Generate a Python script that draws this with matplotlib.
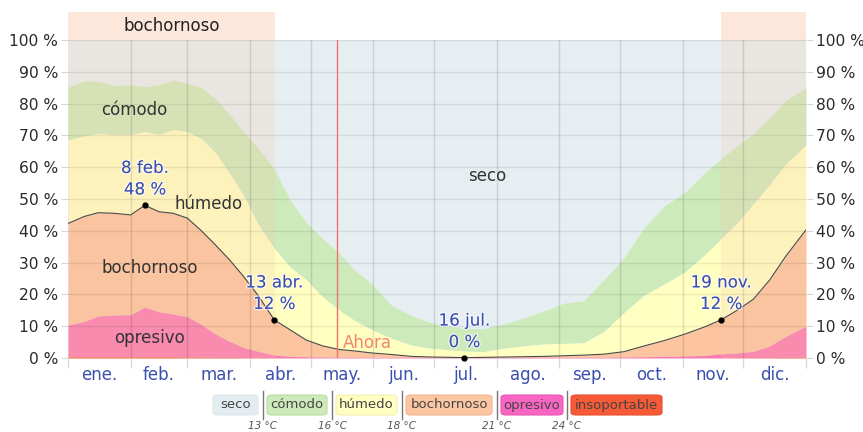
import matplotlib
matplotlib.use("Agg")
import matplotlib.pyplot as plt
import matplotlib.patheffects as pe
from matplotlib.patches import Rectangle, FancyBboxPatch
import numpy as np

# ---------------- data (percent of days, cumulative boundaries) ----------------
days = [0, 8, 15, 23, 31, 38, 45, 52, 59, 66, 73, 80, 87, 94, 102, 110, 118, 126,
        134, 142, 150, 160, 170, 180, 190, 196, 205, 215, 225, 235, 245, 255, 265,
        275, 285, 295, 305, 315, 323, 331, 339, 347, 355, 365]

insoportable_top = [0.4, 0.4, 0.4, 0.4, 0.4, 0.4, 0.4, 0.4, 0.3, 0.3, 0.2, 0.2, 0.1, 0.1, 0.1, 0.0, 0.0, 0.0,
                    0.0, 0.0, 0.0, 0.0, 0.0, 0.0, 0.0, 0.0, 0.0, 0.0, 0.0, 0.0, 0.0, 0.0, 0.0,
                    0.0, 0.0, 0.0, 0.0, 0.0, 0.0, 0.1, 0.1, 0.1, 0.2, 0.3]

opresivo_top = [10.4, 11.5, 13.2, 13.5, 13.6, 16.0, 14.5, 13.8, 13.0, 10.5, 7.5, 5.2, 3.3, 2.1, 0.9, 0.5, 0.4, 0.3,
                0.2, 0.2, 0.2, 0.2, 0.2, 0.2, 0.2, 0.2, 0.2, 0.2, 0.2, 0.2, 0.2, 0.2, 0.2,
                0.3, 0.4, 0.5, 0.6, 0.8, 1.3, 1.6, 2.1, 3.8, 6.8, 10.0]

bochornoso_top = [42.3, 44.5, 45.7, 45.5, 45.0, 48.0, 46.0, 45.5, 44.0, 40.0, 35.5, 30.8, 25.5, 19.7, 12.0, 8.8, 5.6, 3.8,
                  2.7, 2.2, 1.6, 1.1, 0.5, 0.3, 0.2, 0.1, 0.2, 0.3, 0.4, 0.5, 0.7, 0.9, 1.2,
                  2.0, 3.8, 5.5, 7.5, 9.8, 12.0, 15.0, 18.5, 24.5, 32.0, 40.3]

humedo_top = [68.6, 69.8, 70.7, 70.2, 70.3, 71.2, 70.3, 71.8, 71.2, 69.0, 64.5, 58.0, 51.0, 42.0, 34.5, 28.5, 24.5, 19.2,
              15.1, 11.7, 9.0, 6.2, 4.0, 3.0, 2.5, 2.2, 2.0, 3.0, 3.8, 4.4, 4.6, 4.8, 8.3,
              14.3, 19.8, 23.3, 27.0, 32.5, 37.5, 42.5, 48.5, 54.5, 61.0, 67.0]

comodo_top = [85.1, 87.2, 87.0, 85.7, 85.9, 85.3, 86.0, 87.4, 86.5, 85.0, 81.5, 76.5, 71.0, 66.0, 59.5, 49.5, 42.5, 37.5,
              33.0, 27.5, 23.5, 16.5, 13.3, 11.0, 9.8, 9.3, 9.2, 10.5, 12.5, 14.7, 17.2, 18.0, 24.5,
              31.5, 41.0, 47.8, 52.0, 58.3, 62.6, 66.8, 70.5, 75.5, 81.0, 85.0]

month_starts = [0, 31, 59, 90, 120, 151, 181, 212, 243, 273, 304, 334, 365]
month_labels = ["ene.", "feb.", "mar.", "abr.", "may.", "jun.", "jul.", "ago.", "sep.", "oct.", "nov.", "dic."]

muggy_periods = [(0, 102.5), (323, 365)]
now_day = 133

annot_days = [38, 102, 196, 323]
annot_vals = [48, 12, 0, 12]
annot_texts = ["8 feb.\n48 %", "13 abr.\n12 %", "16 jul.\n0 %", "19 nov.\n12 %"]

legend_labels = ["seco", "cómodo", "húmedo", "bochornoso", "opresivo", "insoportable"]
temp_labels = ["13 °C", "16 °C", "18 °C", "21 °C", "24 °C"]

# ---------------- style ----------------
c_seco = "#e6eef2"
c_comodo = "#cdeabb"
c_humedo = "#ffffc2"
c_boch = "#fcc49f"
c_opres = "#f87bb0"
c_insop = "#f5603a"
c_overlay = "#f8c8a8"
blue = "#3a4fb0"

W, H = 863, 432
fig = plt.figure(figsize=(W / 100, H / 100), dpi=100)
x0, x1, ytop, ybot = 68, 806, 40, 358
ax = fig.add_axes([x0 / W, 1 - ybot / H, (x1 - x0) / W, (ybot - ytop) / H])
ax.set_xlim(0, 365)
ax.set_ylim(0, 100)
ax.set_facecolor(c_seco)
for s in ax.spines.values():
    s.set_visible(False)

d = np.array(days, dtype=float)
zero = np.zeros_like(d)
ax.fill_between(d, humedo_top, comodo_top, color=c_comodo, lw=0, zorder=1)
ax.fill_between(d, bochornoso_top, humedo_top, color=c_humedo, lw=0, zorder=1)
ax.fill_between(d, opresivo_top, bochornoso_top, color=c_boch, lw=0, zorder=1)
ax.fill_between(d, insoportable_top, opresivo_top, color=c_opres, lw=0, zorder=1)
ax.fill_between(d, zero, insoportable_top, color=c_insop, lw=0, zorder=1)
ax.plot(d, bochornoso_top, color="#4a4a4a", lw=0.8, zorder=4)

# muggy overlay + band above plot
for a, b in muggy_periods:
    ax.axvspan(a, b, color=c_overlay, alpha=0.22, lw=0, zorder=2)
    ax.add_patch(Rectangle((a, 1.0), b - a, 28 / 318, transform=ax.get_xaxis_transform(),
                           facecolor="#fde6da", edgecolor="none", clip_on=False, zorder=0))
ax.text(np.mean(muggy_periods[0]), 1.044, "bochornoso", transform=ax.get_xaxis_transform(),
        ha="center", va="center", fontsize=12, color="#222")

# grid
for m in month_starts[1:-1]:
    ax.axvline(m, color="black", alpha=0.12, lw=1, zorder=3)
for v in range(10, 101, 10):
    ax.axhline(v, color="black", alpha=0.08, lw=1, zorder=3)

# now line
ax.axvline(now_day, color="#f07070", lw=1, zorder=4)
ax.text(now_day + 3, 4.7, "Ahora", color="#f4846c", fontsize=12, ha="left", va="center", zorder=5)

# ticks
ax.set_xticks(month_starts)
ax.set_xticklabels([])
ax.tick_params(axis="x", which="major", length=7, color="#d8d8d8", width=1)
mids = [(month_starts[i] + month_starts[i + 1]) / 2 for i in range(12)]
ax.set_xticks(mids, minor=True)
ax.set_xticklabels(month_labels, minor=True)
ax.tick_params(axis="x", which="minor", length=0, pad=6, labelsize=12, labelcolor=blue)

yt = list(range(0, 101, 10))
ax.set_yticks(yt)
ax.set_yticklabels([f"{v} %" for v in yt])
ax.tick_params(axis="y", length=5, color="#d8d8d8", labelsize=11.2, labelcolor="#2a2a2a",
               left=True, right=True, labelleft=True, labelright=True, pad=2)

# region labels
lab_kw = dict(fontsize=12, color="#333", ha="center", va="center", zorder=5)
ax.text(33, 78, "cómodo", **lab_kw)
ax.text(69.5, 48.4, "húmedo", **lab_kw)
ax.text(40.5, 28.3, "bochornoso", **lab_kw)
ax.text(40.5, 6.3, "opresivo", **lab_kw)
ax.text(207.5, 57.2, "seco", **lab_kw)

# annotations
for dd, vv, tt in zip(annot_days, annot_vals, annot_texts):
    ax.plot([dd], [vv], "o", color="black", ms=3.5, zorder=6, clip_on=False)
    ax.annotate(tt, xy=(dd, vv), xytext=(0, 5), textcoords="offset points", ha="center",
                va="bottom", fontsize=12, color=blue, linespacing=1.25, zorder=6,
                path_effects=[pe.withStroke(linewidth=2, foreground=(1, 1, 1, 0.6))])

# legend
box_x = [(213, 258), (267, 327), (336, 397), (406, 492), (501, 563), (571, 662)]
box_fc = ["#e3ecf0", "#cdeabb", "#ffffc2", "#fdc6a2", "#f865c2", "#f75a36"]
box_ec = ["#dfe7ea", "#b9dca3", "#f4f0b0", "#f0b590", "#e858b5", "#e54f2d"]
seps = [262.5, 332, 401.5, 496.5, 567]
by0, by1 = 395, 415
for (a, b), fc, ec, lab in zip(box_x, box_fc, box_ec, legend_labels):
    fig.patches.append(FancyBboxPatch((a / W, 1 - by1 / H), (b - a) / W, (by1 - by0) / H,
                                      boxstyle="round,pad=0,rounding_size=0.006",
                                      transform=fig.transFigure, facecolor=fc, edgecolor=ec, lw=0.8))
    fig.text((a + b) / 2 / W, 1 - 405 / H, lab, ha="center", va="center", fontsize=9.5, color="#444")
for sx, tl in zip(seps, temp_labels):
    fig.add_artist(plt.Line2D([sx / W, sx / W], [1 - 419 / H, 1 - 391 / H], transform=fig.transFigure,
                              color="#777", lw=1))
    fig.text(sx / W, 1 - 426 / H, tl, ha="center", va="center", fontsize=7.5, style="italic", color="#555")

fig.savefig("out.png", dpi=100)
